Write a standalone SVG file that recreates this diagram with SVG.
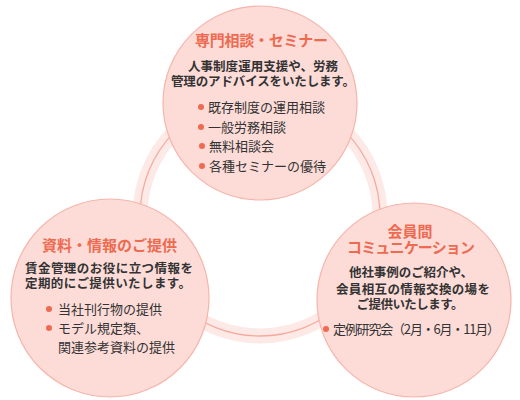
<svg xmlns="http://www.w3.org/2000/svg" width="520" height="400" viewBox="0 0 520 400">
<style>
.node{fill:#fddcd8;stroke:#f6b5aa;stroke-width:1.2}
.band{fill:none;stroke:#fde9e6;stroke-width:15}
.line{fill:none;stroke:#f6aa9e;stroke-width:1.3}
text{font-family:"Noto Sans CJK JP","Noto Sans",sans-serif}
.t{fill:#ee6a50;font-weight:bold;font-size:15px;text-anchor:middle}
.d{fill:#333;font-weight:bold;font-size:12.5px}
.c{text-anchor:middle}
.b{fill:#333;font-size:13px}
.dot{fill:#f06a4f}
</style>
<rect width="520" height="400" fill="#fff"/>
<g id="connectors">
<circle class="band" cx="260" cy="216" r="120"/>
<circle class="line" cx="260" cy="216" r="120"/>
</g>
<g id="node-seminar">
<circle class="node" cx="260" cy="103" r="97"/>
<text class="t" x="261.5" y="46" textLength="133">専門相談・セミナー</text>
<text class="d c" x="263" y="71" textLength="150">人事制度運用支援や、労務</text>
<text class="d c" x="263" y="86" textLength="184">管理のアドバイスをいたします。</text>
<circle class="dot" cx="201" cy="107" r="3"/>
<text class="b" x="208" y="112">既存制度の運用相談</text>
<circle class="dot" cx="201" cy="127" r="3"/>
<text class="b" x="208" y="132">一般労務相談</text>
<circle class="dot" cx="202" cy="146" r="3"/>
<text class="b" x="209" y="151">無料相談会</text>
<circle class="dot" cx="202" cy="166" r="3"/>
<text class="b" x="209" y="171">各種セミナーの優待</text>
</g>
<g id="node-materials">
<circle class="node" cx="110" cy="298" r="99"/>
<text class="t" x="109.5" y="251" textLength="135">資料・情報のご提供</text>
<text class="d" x="25" y="273" textLength="168">賃金管理のお役に立つ情報を</text>
<text class="d" x="25" y="288" textLength="166">定期的にご提供いたします。</text>
<circle class="dot" cx="49" cy="309" r="3"/>
<text class="b" x="58" y="314">当社刊行物の提供</text>
<circle class="dot" cx="49" cy="328" r="3"/>
<text class="b" x="58" y="333">モデル規定類、</text>
<text class="b" x="58" y="352">関連参考資料の提供</text>
</g>
<g id="node-communication">
<circle class="node" cx="414" cy="300" r="97"/>
<text class="t" x="410" y="237">会員間</text>
<text class="t" x="411" y="253" textLength="128">コミュニケーション</text>
<text class="d c" x="411" y="277" textLength="124">他社事例のご紹介や、</text>
<text class="d c" x="413" y="294" textLength="154">会員相互の情報交換の場を</text>
<text class="d c" x="410" y="309" textLength="107">ご提供いたします。</text>
<circle class="dot" cx="326" cy="329" r="3"/>
<text class="b" x="333" y="334" textLength="167">定例研究会（2月・6月・11月）</text>
</g>
</svg>
